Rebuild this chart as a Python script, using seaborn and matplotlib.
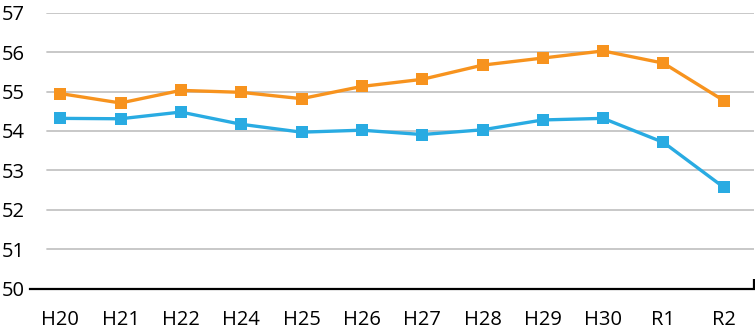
import matplotlib
matplotlib.use("Agg")
import matplotlib.pyplot as plt
import seaborn as sns
import pandas as pd

# Fiscal years on the category axis
years = ["H20", "H21", "H22", "H24", "H25", "H26", "H27", "H28", "H29", "H30", "R1", "R2"]

# Two series of yearly values
series_a = [54.95, 54.71, 55.03, 54.98, 54.82, 55.13, 55.31, 55.67, 55.85, 56.03, 55.72, 54.77]
series_b = [54.32, 54.31, 54.48, 54.17, 53.97, 54.02, 53.91, 54.03, 54.28, 54.32, 53.71, 52.57]

y_ticks = [50, 51, 52, 53, 54, 55, 56, 57]

orange = "#F7931E"
blue = "#29ABE2"

df = pd.DataFrame({
    "year": years * 2,
    "x": list(range(len(years))) * 2,
    "value": series_a + series_b,
    "series": ["A"] * len(years) + ["B"] * len(years),
})

sns.set_theme(style="white")
plt.rcParams["font.family"] = ["Open Sans", "DejaVu Sans"]

fig = plt.figure(figsize=(7.55, 3.32), dpi=100)
ax = fig.add_axes([30 / 755, (332 - 288.7) / 332, 724 / 755, (288.7 - 12.7) / 332])

# Horizontal gridlines, starting a little right of the axis origin
for t in y_ticks[1:]:
    ax.axhline(t, xmin=0.024, xmax=1.0, color="#C4C4C4", lw=1.3, zorder=0)

sns.lineplot(
    data=df, x="x", y="value", hue="series",
    palette={"A": orange, "B": blue},
    marker="s", markersize=8.5, markeredgewidth=0,
    linewidth=2.4, dashes=False, legend=False, ax=ax,
)

ax.set_xlim(-0.5, len(years) - 0.5)
ax.set_ylim(50, 57)
ax.set_xticks(range(len(years)))
ax.set_xticklabels(years)
ax.set_yticks(y_ticks)
ax.set_xlabel("")
ax.set_ylabel("")

for side in ["top", "right", "left"]:
    ax.spines[side].set_visible(False)
ax.spines["bottom"].set_color("black")
ax.spines["bottom"].set_linewidth(1.6)

ax.tick_params(axis="x", which="major", length=0, pad=15, labelsize=14.5, colors="black")
ax.tick_params(axis="y", length=0, pad=4, labelsize=14.5, colors="black")

# Closing tick at the right end of the category axis
ax.set_xticks([len(years) - 0.5], minor=True)
ax.tick_params(axis="x", which="minor", bottom=True, direction="in", length=7, width=1.6, color="black")

fig.savefig("out.png", dpi=100)
